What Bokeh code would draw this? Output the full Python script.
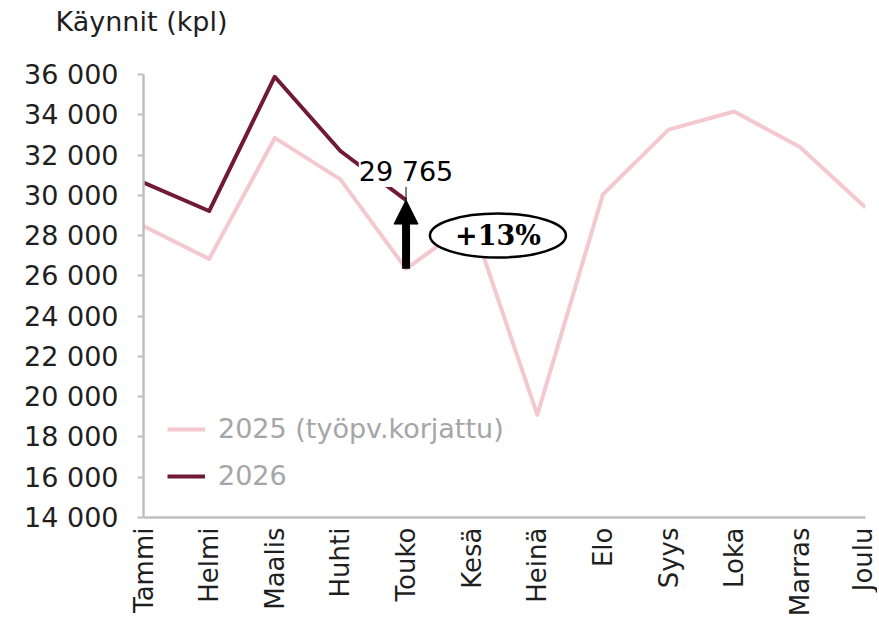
import math
from bokeh.plotting import figure
from bokeh.models import FixedTicker, Legend, LegendItem, Label, Arrow, NormalHead, Title
from bokeh.embed import file_html
from bokeh.resources import INLINE
from bokeh.core.properties import value

# ---- data ----
months = ["Tammi", "Helmi", "Maalis", "Huhti", "Touko", "Kesä",
          "Heinä", "Elo", "Syys", "Loka", "Marras", "Joulu"]
visits_2025 = [28480, 26840, 32850, 30790, 26350, 28700,
               19100, 30050, 33260, 34160, 32400, 29390]
visits_2026 = [30630, 29220, 35890, 32200, 29765]
series_names = ["2025 (työpv.korjattu)", "2026"]
y_ticks = [14000, 16000, 18000, 20000, 22000, 24000,
           26000, 28000, 30000, 32000, 34000, 36000]
y_tick_labels = ["14 000", "16 000", "18 000", "20 000", "22 000", "24 000",
                 "26 000", "28 000", "30 000", "32 000", "34 000", "36 000"]
title_text = "Käynnit (kpl)"

# ---- style ----
FONT = "DejaVu Sans"
PINK = "#F4C8CF"
MAROON = "#701A38"
AXIS = "#bfbfbf"
TEXT = "#1f1f1f"

x_idx = list(range(len(months)))

p = figure(width=877, height=619, output_backend="svg", toolbar_location=None,
           x_range=(0, len(months) - 1), y_range=(y_ticks[0], y_ticks[-1]),
           min_border_left=143, min_border_right=12,
           min_border_top=74, min_border_bottom=99)
p.outline_line_color = None
p.grid.visible = False
p.background_fill_color = "white"
p.border_fill_color = "white"

# spacer panel between frame and title, then the title itself
p.add_layout(Title(text=" ", text_font=FONT, text_font_size="29px", standoff=0), "above")
p.add_layout(Title(text=title_text, text_font=FONT, text_font_size="27px",
                   text_font_style="normal", text_color=TEXT, align="left",
                   vertical_align="top", offset=-88, standoff=0), "above")

# axes
p.yaxis.ticker = FixedTicker(ticks=y_ticks)
p.yaxis.major_label_overrides = {t: l for t, l in zip(y_ticks, y_tick_labels)}
p.xaxis.ticker = FixedTicker(ticks=x_idx)
p.xaxis.major_label_overrides = {i: m for i, m in zip(x_idx, months)}
p.xaxis.major_label_orientation = math.pi / 2
for ax in (p.xaxis[0], p.yaxis[0]):
    ax.axis_line_color = AXIS
    ax.axis_line_width = 2.5
    ax.major_label_text_font = FONT
    ax.major_label_text_color = TEXT
    ax.minor_tick_line_color = None
p.yaxis.major_tick_line_color = AXIS
p.yaxis.major_tick_line_width = 2
p.yaxis.major_tick_in = 0
p.yaxis.major_tick_out = 6
p.yaxis.major_label_text_font_size = "27px"
p.yaxis.major_label_standoff = 19
p.xaxis.major_tick_line_color = None
p.xaxis.major_tick_in = 0
p.xaxis.major_tick_out = 0
p.xaxis.major_label_text_font_size = "26px"
p.xaxis.major_label_standoff = 10

# lines
r25 = p.line(x_idx, visits_2025, line_color=PINK, line_width=4, line_join="round")
r26 = p.line(x_idx[:len(visits_2026)], visits_2026, line_color=MAROON,
             line_width=4, line_join="round")

# callout for latest value
i_last = len(visits_2026) - 1
v_last = visits_2026[i_last]
v_prev = visits_2025[i_last]
p.segment(x0=[i_last], y0=[v_last], x1=[i_last], y1=[v_last + 650],
          line_color="black", line_width=1)
lbl = Label(x=i_last, y=v_last, text=f"{v_last:,}".replace(",", " "),
            text_align="center", text_baseline="bottom", y_offset=13,
            text_font=FONT, text_font_size="27px", text_color="black",
            background_fill_color="white")
p.add_layout(lbl)

p.add_layout(Arrow(end=NormalHead(size=24, fill_color="black", line_color="black"),
                   x_start=i_last, y_start=v_prev, x_end=i_last, y_end=v_last,
                   line_width=8, line_color="black"))

pct = round((v_last / v_prev - 1) * 100)
CALLOUT_X, CALLOUT_Y = 5.4, 28000
p.ellipse(x=[CALLOUT_X], y=[CALLOUT_Y], width=136, height=44,
          width_units="screen", height_units="screen",
          fill_color="white", line_color="black", line_width=2.5)
p.text(x=[CALLOUT_X], y=[CALLOUT_Y], text=[f"+{pct}%"], text_align="center",
       text_baseline="middle", text_font=value("DejaVu Serif"),
       text_font_style="bold", text_font_size="27px", text_color="black")

legend = Legend(items=[LegendItem(label=series_names[0], renderers=[r25]),
                       LegendItem(label=series_names[1], renderers=[r26])],
                location=(24, 26), orientation="vertical",
                label_text_font=FONT, label_text_font_size="27px",
                label_text_color="#a6a6a6", glyph_width=38, glyph_height=20,
                spacing=16, padding=0, margin=0, label_standoff=13,
                border_line_color=None, background_fill_alpha=0)
p.add_layout(legend)

open("out.html", "w").write(file_html(p, INLINE))
